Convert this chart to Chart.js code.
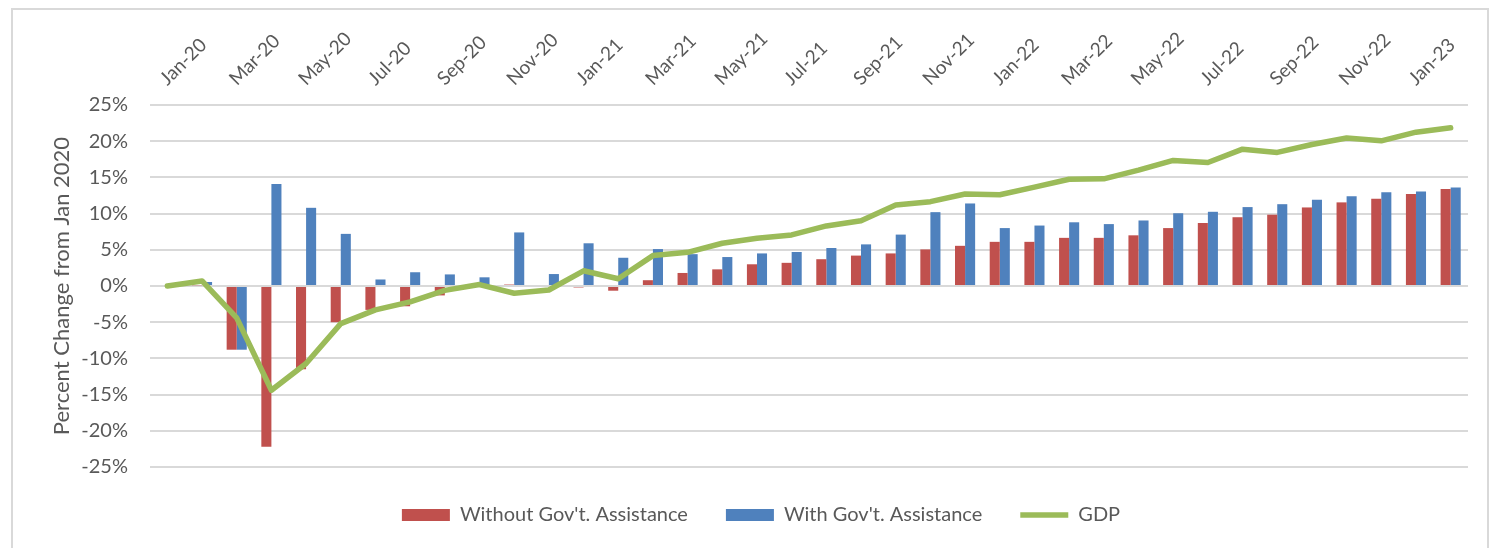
<!DOCTYPE html>
<html>
<head>
<meta charset="utf-8">
<script src="https://cdn.jsdelivr.net/npm/chart.js@4.4.0/dist/chart.umd.min.js"></script>
<style>
  html, body { margin: 0; padding: 0; background: #fff; }
  #wrap { position: relative; width: 1498px; height: 548px; overflow: hidden; }
  #frame { position: absolute; left: 11px; top: 8px; width: 1478px; height: 560px; border: 2px solid #d9d9d9; box-sizing: border-box; }
  canvas { position: absolute; left: 0; top: 0; }
</style>
</head>
<body>
<div id="wrap">
  <div id="frame"></div>
  <canvas id="myChart" width="1498" height="548"></canvas>
</div>
<script>
var months = ["Jan-20", "Feb-20", "Mar-20", "Apr-20", "May-20", "Jun-20", "Jul-20", "Aug-20", "Sep-20", "Oct-20", "Nov-20", "Dec-20",
  "Jan-21", "Feb-21", "Mar-21", "Apr-21", "May-21", "Jun-21", "Jul-21", "Aug-21", "Sep-21", "Oct-21", "Nov-21", "Dec-21",
  "Jan-22", "Feb-22", "Mar-22", "Apr-22", "May-22", "Jun-22", "Jul-22", "Aug-22", "Sep-22", "Oct-22", "Nov-22", "Dec-22",
  "Jan-23", "Feb-23"];

// percent change from Jan 2020
var withoutAssist = [0, 0.1, -8.8, -22.2, -11.5, -5.0, -3.3, -2.8, -1.3, 0, 0.2, 0,
  -0.2, -0.65, 0.8, 1.8, 2.3, 3.0, 3.2, 3.7, 4.2, 4.5, 5.05, 5.55,
  6.1, 6.1, 6.65, 6.65, 7.0, 8.0, 8.7, 9.5, 9.85, 10.85, 11.55, 12.05,
  12.7, 13.4];

var withAssist = [0, 0.55, -8.8, 14.1, 10.8, 7.2, 0.9, 1.9, 1.6, 1.2, 7.4, 1.65,
  5.9, 3.9, 5.1, 4.4, 4.0, 4.5, 4.7, 5.25, 5.75, 7.1, 10.2, 11.4,
  8.0, 8.35, 8.8, 8.55, 9.05, 10.05, 10.25, 10.9, 11.3, 11.9, 12.4, 12.95,
  13.05, 13.6];

var gdp = [0, 0.7, -4.4, -14.4, -10.7, -5.2, -3.3, -2.2, -0.6, 0.2, -1.0, -0.55,
  2.1, 1.0, 4.2, 4.65, 5.9, 6.6, 7.05, 8.3, 9.0, 11.2, 11.65, 12.7,
  12.6, 13.65, 14.75, 14.8, 16.0, 17.35, 17.05, 18.9, 18.45, 19.55, 20.45, 20.05,
  21.25, 21.85];

var yTicks = [-25, -20, -15, -10, -5, 0, 5, 10, 15, 20, 25];

var txt = "#595959";
var fam = "Lato, 'Open Sans', sans-serif";

window.onload = function() {
  montarFigura();
};

function montarFigura() {
  var ctx = document.getElementById("myChart").getContext("2d");
  var chart = new Chart(ctx, {
    type: "bar",
    data: {
      labels: months,
      datasets: [
        {
          label: "Without Gov't. Assistance",
          backgroundColor: "#C0504D",
          borderWidth: 0,
          pointStyle: "rect",
          order: 1,
          data: withoutAssist
        },
        {
          label: "With Gov't. Assistance",
          backgroundColor: "#4F81BD",
          borderWidth: 0,
          pointStyle: "rect",
          order: 1,
          data: withAssist
        },
        {
          type: "line",
          label: "GDP",
          borderColor: "#9BBB59",
          backgroundColor: "#9BBB59",
          borderWidth: 5.5,
          pointRadius: 0,
          pointStyle: "line",
          tension: 0,
          borderJoinStyle: "round",
          borderCapStyle: "round",
          order: 0,
          data: gdp
        }
      ]
    },
    options: {
      responsive: false,
      animation: false,
      categoryPercentage: 0.58,
      barPercentage: 1.0,
      layout: { padding: { top: 0, right: 30, bottom: 13, left: 54 } },
      plugins: {
        tooltip: { enabled: false },
        legend: {
          position: "bottom",
          labels: {
            usePointStyle: true,
            pointStyleWidth: 48,
            boxHeight: 12,
            padding: 38,
            color: txt,
            font: { family: fam, size: 20 },
            sort: function(a, b) { return a.datasetIndex - b.datasetIndex; }
          }
        }
      },
      scales: {
        x: {
          position: "top",
          grid: { display: false, drawTicks: false },
          border: { display: false },
          afterFit: function(scale) { scale.height = 105; },
          ticks: {
            autoSkip: false,
            minRotation: 45,
            maxRotation: 45,
            padding: 15,
            labelOffset: 12,
            color: txt,
            font: { family: fam, size: 19 },
            callback: function(val, i) { return i % 2 === 0 ? months[i] : ""; }
          }
        },
        y: {
          min: -25,
          max: 25,
          afterFit: function(scale) { scale.width = 96; },
          afterBuildTicks: function(scale) {
            scale.ticks = yTicks.map(function(v) { return { value: v }; });
          },
          grid: { color: "#d9d9d9", lineWidth: 2, drawTicks: false },
          border: { display: false },
          ticks: {
            padding: 22,
            color: txt,
            font: { family: fam, size: 20 },
            callback: function(v) { return v + "%"; }
          },
          title: {
            display: true,
            text: "Percent Change from Jan 2020",
            color: txt,
            font: { family: fam, size: 22 },
            padding: { top: -5, bottom: 0 }
          }
        }
      }
    }
  });
}
</script>
</body>
</html>
